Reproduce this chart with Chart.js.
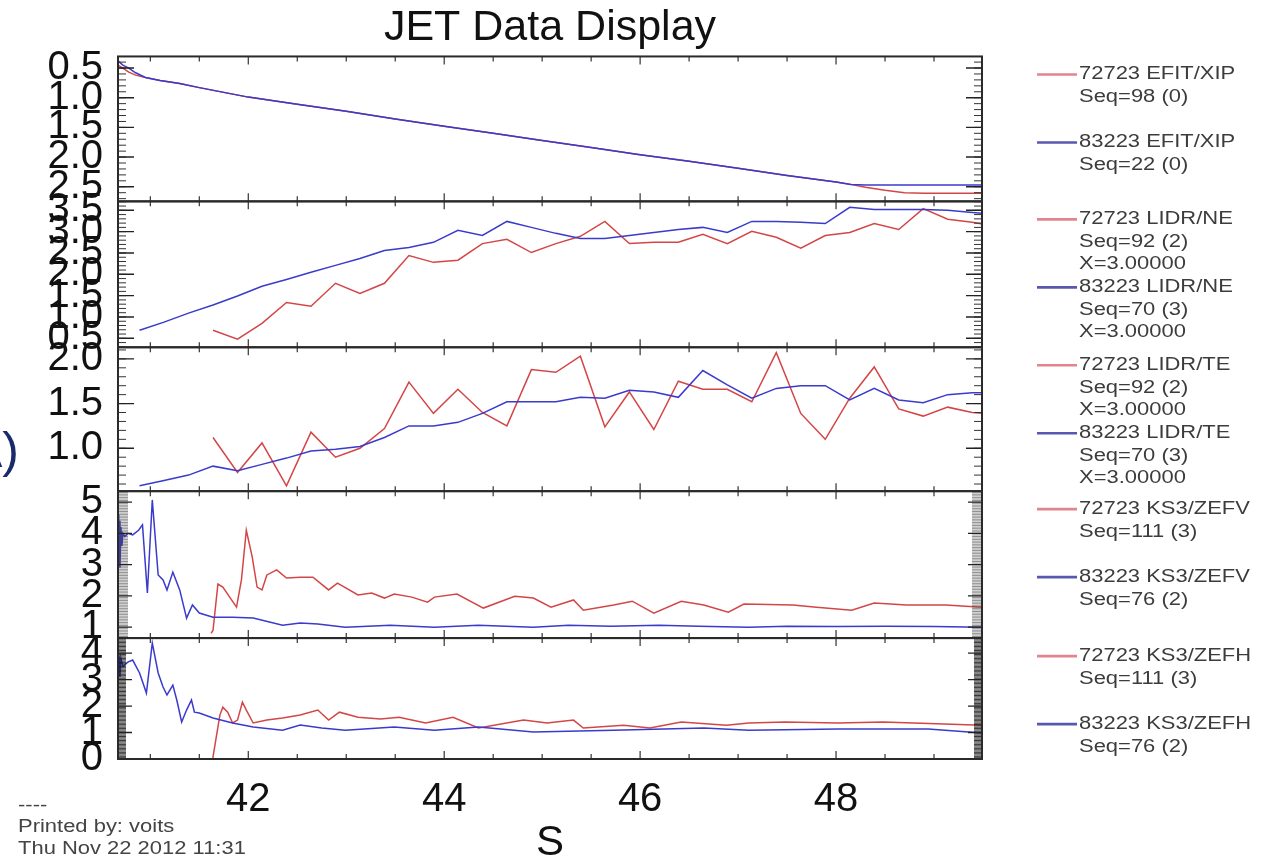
<!DOCTYPE html>
<html>
<head>
<meta charset="utf-8">
<title>JET Data Display</title>
<script src="https://cdn.jsdelivr.net/npm/chart.js@4.4.1/dist/chart.umd.min.js"></script>
<style>
  html, body { margin: 0; padding: 0; background: #ffffff; }
  #wrap { position: relative; width: 1277px; height: 860px; }
  canvas { display: block; }
</style>
</head>
<body>
<div id="wrap"><canvas id="jet" width="1277" height="860"></canvas></div>
<script>
// ---------------- signals (time in s) ----------------
// EFIT/XIP plasma current magnitude (MA)
const xipTime = [40.67, 40.72, 40.78, 40.85, 40.95, 41.1, 41.3, 41.5, 41.75, 42.0, 42.5, 43.0, 43.5, 44.0,
                 44.5, 45.0, 45.5, 46.0, 46.5, 47.0, 47.5, 48.0, 48.15, 48.3, 48.5, 48.7, 48.9, 49.2, 49.5];
const xip72723 = [0.45, 0.50, 0.57, 0.62, 0.66, 0.71, 0.76, 0.83, 0.91, 0.99, 1.11, 1.23, 1.36, 1.48,
                  1.60, 1.72, 1.84, 1.96, 2.07, 2.19, 2.31, 2.42, 2.46, 2.51, 2.56, 2.60, 2.61, 2.61, 2.61];
const xip83223 = [0.38, 0.45, 0.50, 0.58, 0.66, 0.71, 0.76, 0.83, 0.91, 0.99, 1.11, 1.23, 1.36, 1.48,
                  1.60, 1.72, 1.84, 1.96, 2.07, 2.19, 2.31, 2.42, 2.46, 2.47, 2.47, 2.47, 2.47, 2.47, 2.47];

// LIDR profiles at X=3.0
const lidrTime72723 = [41.64, 41.89, 42.14, 42.39, 42.64, 42.89, 43.14, 43.39, 43.64, 43.89, 44.14,
                       44.39, 44.64, 44.89, 45.14, 45.39, 45.64, 45.89, 46.14, 46.39, 46.64, 46.89,
                       47.14, 47.39, 47.64, 47.89, 48.14, 48.39, 48.64, 48.89, 49.14, 49.39, 49.64];
const lidrTime83223 = [40.89, 41.14, 41.39, 41.64, 41.89, 42.14, 42.39, 42.64, 42.89, 43.14, 43.39, 43.64,
                       43.89, 44.14, 44.39, 44.64, 44.89, 45.14, 45.39, 45.64, 45.89, 46.14, 46.39, 46.64,
                       46.89, 47.14, 47.39, 47.64, 47.89, 48.14, 48.39, 48.64, 48.89, 49.14, 49.39, 49.64];
const ne72723 = [0.69, 0.48, 0.85, 1.34, 1.25, 1.79, 1.55, 1.79, 2.44, 2.28, 2.33, 2.72, 2.82, 2.51, 2.72,
                 2.89, 3.24, 2.72, 2.75, 2.75, 2.94, 2.72, 3.01, 2.87, 2.61, 2.91, 2.98, 3.19, 3.05, 3.54,
                 3.29, 3.22, 3.12];
const ne83223 = [0.69, 0.88, 1.09, 1.28, 1.49, 1.72, 1.88, 2.05, 2.21, 2.37, 2.56, 2.63, 2.75, 3.03, 2.91,
                 3.24, 3.10, 2.96, 2.84, 2.84, 2.91, 2.98, 3.05, 3.10, 2.98, 3.24, 3.24, 3.22, 3.19, 3.57,
                 3.52, 3.52, 3.52, 3.50, 3.45, 3.40];
const te72723 = [1.12, 0.73, 1.06, 0.58, 1.18, 0.90, 1.00, 1.22, 1.74, 1.39, 1.66, 1.40, 1.25, 1.88, 1.85,
                 2.03, 1.24, 1.63, 1.21, 1.75, 1.66, 1.66, 1.52, 2.07, 1.39, 1.10, 1.56, 1.91, 1.44, 1.36,
                 1.46, 1.40, 1.38];
const te83223 = [0.58, 0.64, 0.70, 0.80, 0.75, 0.82, 0.89, 0.97, 0.99, 1.02, 1.12, 1.25, 1.25, 1.29, 1.39,
                 1.52, 1.52, 1.52, 1.57, 1.56, 1.65, 1.63, 1.57, 1.87, 1.71, 1.56, 1.67, 1.70, 1.70, 1.54,
                 1.67, 1.54, 1.51, 1.60, 1.62, 1.62];

// KS3 Zeff, vertical and horizontal lines of sight
const zefvTime72723 = [41.62, 41.64, 41.69, 41.74, 41.81, 41.88, 41.93, 41.98, 42.04, 42.09, 42.14, 42.19,
                       42.29, 42.39, 42.53, 42.66, 42.82, 42.91, 43.12, 43.26, 43.39, 43.49, 43.67, 43.83,
                       43.90, 44.13, 44.40, 44.72, 44.91, 45.09, 45.32, 45.42, 45.73, 45.92, 46.14, 46.42,
                       46.65, 46.90, 47.06, 47.56, 47.80, 48.16, 48.39, 48.72, 49.12, 49.49];
const zefv72723 = [0.80, 0.90, 2.38, 2.28, 1.96, 1.64, 2.51, 4.10, 3.25, 2.28, 2.19, 2.67,
                   2.83, 2.57, 2.60, 2.60, 2.19, 2.41, 2.03, 2.09, 1.93, 2.06, 1.96, 1.80,
                   1.96, 2.06, 1.61, 1.99, 1.93, 1.64, 1.87, 1.54, 1.71, 1.83, 1.45, 1.83,
                   1.71, 1.48, 1.74, 1.71, 1.64, 1.54, 1.77, 1.71, 1.71, 1.64];
const zefvTime83223 = [40.67, 40.675, 40.68, 40.685, 40.69, 40.70, 40.71, 40.72, 40.74, 40.77, 40.82, 40.88,
                       40.92, 40.97, 41.02, 41.08, 41.13, 41.17, 41.23, 41.30, 41.37, 41.43, 41.50, 41.64,
                       41.84, 42.05, 42.35, 42.53, 42.71, 42.99, 43.45, 43.90, 44.35, 44.91, 45.27, 45.70,
                       46.19, 46.60, 47.11, 47.50, 48.00, 48.50, 49.00, 49.49];
const zefv83223 = [3.00, 4.60, 3.20, 4.40, 2.90, 4.20, 3.60, 4.00, 3.90, 4.00, 3.95, 4.10,
                   4.27, 2.09, 5.07, 2.67, 2.51, 2.19, 2.76, 2.19, 1.29, 1.71, 1.45, 1.32,
                   1.32, 1.29, 1.06, 1.13, 1.10, 1.00, 1.06, 1.00, 1.06, 1.00, 1.06, 1.03,
                   1.06, 1.03, 1.00, 1.03, 1.02, 1.03, 1.02, 1.00];
const zefhTime72723 = [41.63, 41.64, 41.71, 41.74, 41.79, 41.84, 41.89, 41.94, 41.98, 42.05, 42.19, 42.35,
                       42.53, 42.71, 42.82, 42.93, 43.12, 43.35, 43.54, 43.81, 44.09, 44.35, 44.81, 45.05,
                       45.32, 45.42, 45.83, 46.10, 46.42, 46.88, 47.11, 47.48, 48.02, 48.48, 49.49];
const zefh72723 = [-0.30, 0.08, 1.66, 1.96, 1.77, 1.36, 1.47, 2.15, 1.85, 1.36, 1.47, 1.55,
                   1.66, 1.85, 1.47, 1.77, 1.58, 1.51, 1.58, 1.36, 1.58, 1.17, 1.47, 1.36,
                   1.47, 1.17, 1.28, 1.17, 1.40, 1.28, 1.36, 1.40, 1.36, 1.40, 1.28];
const zefhTime83223 = [40.67, 40.68, 40.69, 40.70, 40.72, 40.77, 40.82, 40.89, 40.96, 41.02, 41.08, 41.13,
                       41.17, 41.23, 41.27, 41.32, 41.37, 41.42, 41.45, 41.50, 41.64, 41.84, 42.05, 42.35,
                       42.53, 42.75, 42.99, 43.49, 43.90, 44.35, 44.91, 45.73, 46.65, 47.11, 48.02, 48.94, 49.49];
const zefh83223 = [3.30, 3.90, 3.10, 3.80, 3.50, 3.66, 3.74, 3.25, 2.49, 4.38, 3.25, 2.72,
                   2.42, 2.79, 2.23, 1.40, 1.85, 2.23, 1.77, 1.74, 1.55, 1.36, 1.21, 1.09,
                   1.28, 1.17, 1.09, 1.21, 1.09, 1.21, 1.02, 1.09, 1.17, 1.09, 1.13, 1.13, 0.98];

// ---------------- axes ----------------
const xTickValues = [42, 44, 46, 48];
const xipTicks  = [0.5, 1.0, 1.5, 2.0, 2.5];
const neTicks   = [0.5, 1.0, 1.5, 2.0, 2.5, 3.0, 3.5];
const teTicks   = [1.0, 1.5, 2.0];
const zefvTicks = [1, 2, 3, 4, 5];
const zefhTicks = [0, 1, 2, 3, 4];

// ---------------- legend / footer text ----------------
const legend72723Xip  = ['72723 EFIT/XIP', 'Seq=98 (0)'];
const legend83223Xip  = ['83223 EFIT/XIP', 'Seq=22 (0)'];
const legend72723Ne   = ['72723 LIDR/NE', 'Seq=92 (2)', 'X=3.00000'];
const legend83223Ne   = ['83223 LIDR/NE', 'Seq=70 (3)', 'X=3.00000'];
const legend72723Te   = ['72723 LIDR/TE', 'Seq=92 (2)', 'X=3.00000'];
const legend83223Te   = ['83223 LIDR/TE', 'Seq=70 (3)', 'X=3.00000'];
const legend72723Zefv = ['72723 KS3/ZEFV', 'Seq=111 (3)'];
const legend83223Zefv = ['83223 KS3/ZEFV', 'Seq=76 (2)'];
const legend72723Zefh = ['72723 KS3/ZEFH', 'Seq=111 (3)'];
const legend83223Zefh = ['83223 KS3/ZEFH', 'Seq=76 (2)'];
const footerLines = ['----', 'Printed by: voits', 'Thu Nov 22 2012 11:31'];

// ---------------- drawing ----------------
const FONT = '"Liberation Sans", Arial, Helvetica, sans-serif';
const RED = 'rgb(212,70,70)';
const BLUE = 'rgb(58,58,205)';
const RED_KEY = 'rgb(226,132,142)';
const BLUE_KEY = 'rgb(88,88,176)';

const pts = (t, v) => t.map((x, i) => ({ x: x, y: v[i] }));

function series(lines, t, v, axis, isRef) {
  return {
    label: lines[0],
    legendLines: lines,
    data: pts(t, v),
    yAxisID: axis,
    borderColor: isRef ? BLUE : RED,
    keyColor: isRef ? BLUE_KEY : RED_KEY,
    borderWidth: 1.5,
    pointRadius: 0,
    tension: 0,
    fill: false,
    order: isRef ? 0 : 1
  };
}

function yAxis(min, max, tickList, weight, decimals, reverse) {
  return {
    type: 'linear',
    position: 'left',
    stack: 'panels',
    stackWeight: weight,
    min: min,
    max: max,
    reverse: !!reverse,
    grid: { display: false, drawTicks: false },
    border: { display: false },
    afterBuildTicks: s => { s.ticks = tickList.map(v => ({ value: v })); },
    afterFit: s => { s.width = 118; },
    ticks: {
      autoSkip: false,
      padding: 15,
      color: '#111',
      font: { family: FONT, size: 40 },
      callback: v => Number(v).toFixed(decimals)
    }
  };
}

// tick styling per panel (IDL-style inward ticks)
const tickStyle = {
  yXip:  { minor: 0.1,  majLen: 16, minLen: 8,  minorColor: '#333' },
  yNe:   { minor: 0.1,  majLen: 16, minLen: 8,  minorColor: '#333' },
  yTe:   { minor: 0.1,  majLen: 16, minLen: 8,  minorColor: '#333' },
  yZefv: { minor: 0.05, majLen: 14, minLen: 10, minorColor: 'rgba(70,70,70,0.6)' },
  yZefh: { minor: 0.05, majLen: 14, minLen: 8,  minorColor: 'rgba(20,20,20,0.85)' }
};
const panelIds = ['yXip', 'yNe', 'yTe', 'yZefv', 'yZefh'];

const panelPlugin = {
  id: 'panelPlugin',
  beforeDatasetDraw(chart, args) {
    const ys = chart.scales[args.meta.yAxisID];
    const a = chart.chartArea;
    const ctx = chart.ctx;
    ctx.save();
    ctx.beginPath();
    ctx.rect(a.left, ys.top, a.right - a.left, ys.bottom - ys.top);
    ctx.clip();
  },
  afterDatasetDraw(chart) {
    chart.ctx.restore();
  },
  afterDatasetsDraw(chart) {
    const ctx = chart.ctx;
    const a = chart.chartArea;
    const xs = chart.scales.x;
    ctx.save();
    panelIds.forEach(id => {
      const ys = chart.scales[id];
      const st = tickStyle[id];
      const top = ys.top, bot = ys.bottom;
      // minor y ticks
      ctx.lineWidth = 1;
      ctx.strokeStyle = st.minorColor;
      const n0 = Math.ceil(ys.min / st.minor - 1e-6);
      const n1 = Math.floor(ys.max / st.minor + 1e-6);
      ctx.beginPath();
      for (let n = n0; n <= n1; n++) {
        const y = ys.getPixelForValue(n * st.minor);
        ctx.moveTo(a.left, y); ctx.lineTo(a.left + st.minLen, y);
        ctx.moveTo(a.right, y); ctx.lineTo(a.right - st.minLen, y);
      }
      ctx.stroke();
      // major y ticks
      ctx.strokeStyle = '#222';
      ctx.lineWidth = 1.4;
      ctx.beginPath();
      ys.ticks.forEach(t => {
        const y = ys.getPixelForValue(t.value);
        if (y < top - 0.5 || y > bot + 0.5) return;
        ctx.moveTo(a.left, y); ctx.lineTo(a.left + st.majLen, y);
        ctx.moveTo(a.right, y); ctx.lineTo(a.right - st.majLen, y);
      });
      ctx.stroke();
      // x ticks on top and bottom of each panel
      ctx.lineWidth = 1.2;
      ctx.strokeStyle = '#333';
      ctx.beginPath();
      for (let n = Math.ceil(xs.min * 2); n <= Math.floor(xs.max * 2); n++) {
        const v = n / 2;
        const x = xs.getPixelForValue(v);
        const len = xTickValues.includes(v) ? 8 : 5;
        ctx.moveTo(x, top); ctx.lineTo(x, top + len);
        ctx.moveTo(x, bot); ctx.lineTo(x, bot - len);
      }
      ctx.stroke();
      // frame
      ctx.lineWidth = 2;
      ctx.strokeStyle = '#2a2a2a';
      ctx.strokeRect(a.left, top, a.right - a.left, bot - top);
    });
    ctx.restore();
  },
  afterDraw(chart) {
    const ctx = chart.ctx;
    const a = chart.chartArea;
    ctx.save();
    // legend: one block per trace, grouped by panel
    const perPanel = {};
    chart.data.datasets.forEach(ds => {
      const ys = chart.scales[ds.yAxisID];
      const idx = perPanel[ds.yAxisID] || 0;
      perPanel[ds.yAxisID] = idx + 1;
      const y0 = ys.top + 18 + 68 * idx;
      ctx.strokeStyle = ds.keyColor;
      ctx.lineWidth = 2.6;
      ctx.beginPath();
      ctx.moveTo(a.right + 55, y0);
      ctx.lineTo(a.right + 95, y0);
      ctx.stroke();
      ctx.fillStyle = '#3c3c3c';
      ctx.font = '18px ' + FONT;
      ctx.textBaseline = 'middle';
      ctx.textAlign = 'left';
      ds.legendLines.forEach((line, j) => {
        ctx.save();
        ctx.translate(a.right + 97, y0 + 22.5 * j);
        ctx.scale(1.22, 1);
        ctx.fillText(line, 0, 0);
        ctx.restore();
      });
    });
    // footer
    ctx.fillStyle = '#444';
    ctx.font = '18px ' + FONT;
    ctx.textBaseline = 'middle';
    footerLines.forEach((line, j) => {
      ctx.save();
      ctx.translate(18, 806 + 21.5 * j);
      ctx.scale(1.22, 1);
      ctx.fillText(line, 0, 0);
      ctx.restore();
    });
    // slide marker at the left edge
    ctx.fillStyle = '#1b2a6b';
    ctx.font = '50px ' + FONT;
    ctx.textAlign = 'right';
    ctx.textBaseline = 'alphabetic';
    ctx.fillText('A)', 19, 467);
    ctx.restore();
  }
};

new Chart(document.getElementById('jet'), {
  type: 'line',
  data: {
    datasets: [
      series(legend72723Xip,  xipTime, xip72723, 'yXip', false),
      series(legend83223Xip,  xipTime, xip83223, 'yXip', true),
      series(legend72723Ne,   lidrTime72723, ne72723, 'yNe', false),
      series(legend83223Ne,   lidrTime83223, ne83223, 'yNe', true),
      series(legend72723Te,   lidrTime72723, te72723, 'yTe', false),
      series(legend83223Te,   lidrTime83223, te83223, 'yTe', true),
      series(legend72723Zefv, zefvTime72723, zefv72723, 'yZefv', false),
      series(legend83223Zefv, zefvTime83223, zefv83223, 'yZefv', true),
      series(legend72723Zefh, zefhTime72723, zefh72723, 'yZefh', false),
      series(legend83223Zefh, zefhTime83223, zefh83223, 'yZefh', true)
    ]
  },
  options: {
    responsive: false,
    animation: false,
    devicePixelRatio: 1,
    layout: { padding: { left: 0, right: 295, top: 0, bottom: 0 } },
    plugins: {
      legend: { display: false },
      tooltip: { enabled: false },
      title: {
        display: true,
        text: 'JET Data Display',
        fullSize: false,
        color: '#111',
        font: { family: FONT, size: 43, weight: 'normal', lineHeight: 1.15 },
        padding: { top: 3, bottom: 4 }
      }
    },
    scales: {
      x: {
        type: 'linear',
        position: 'bottom',
        min: 40.67,
        max: 49.49,
        grid: { display: false, drawTicks: false },
        border: { display: false },
        afterBuildTicks: s => { s.ticks = xTickValues.map(v => ({ value: v })); },
        afterFit: s => { s.height = 101; },
        ticks: {
          autoSkip: false,
          maxRotation: 0,
          padding: 17,
          color: '#111',
          font: { family: FONT, size: 40 },
          callback: v => String(v)
        },
        title: {
          display: true,
          text: 'S',
          color: '#111',
          font: { family: FONT, size: 42, lineHeight: 0.8 },
          padding: { top: 0, bottom: 0 }
        }
      },
      yZefh: yAxis(0, 4.57, zefhTicks, 121, 0, false),
      yZefv: yAxis(0.65, 5.35, zefvTicks, 147, 0, false),
      yTe:   yAxis(0.52, 2.13, teTicks, 144, 1, false),
      yNe:   yAxis(0.29, 3.71, neTicks, 146, 1, false),
      yXip:  yAxis(0.305, 2.746, xipTicks, 145, 1, true)
    }
  },
  plugins: [panelPlugin]
});
</script>
</body>
</html>
